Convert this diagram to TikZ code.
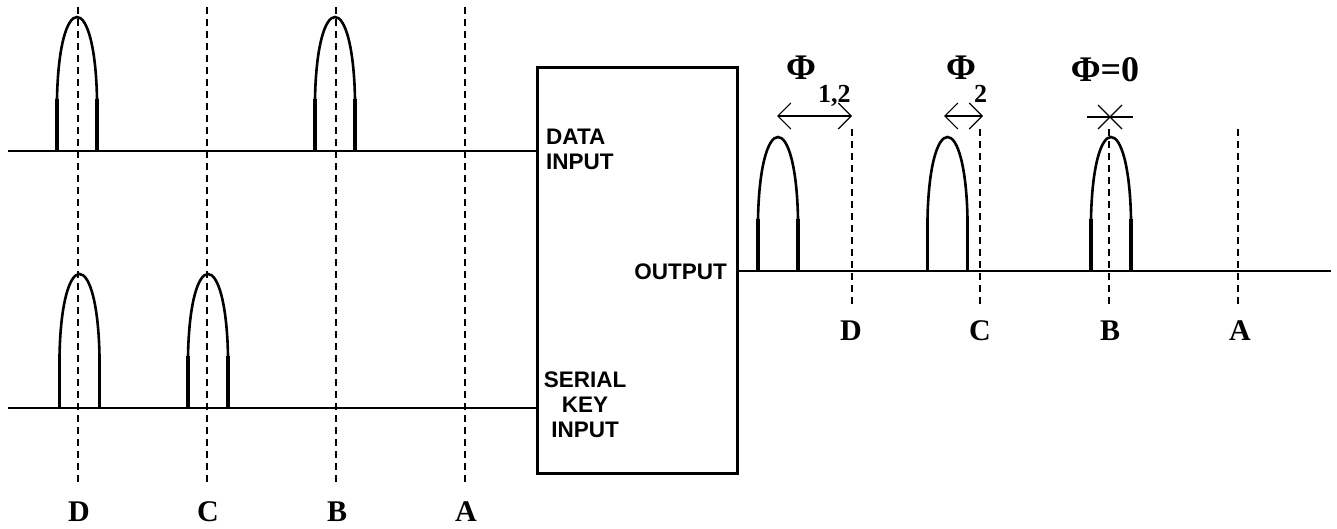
\documentclass[tikz,border=0pt]{standalone}
\usepackage{fontspec}
\setmainfont{Liberation Serif}
\setsansfont{Liberation Sans}
\usetikzlibrary{arrows.meta}
\begin{document}
\begin{tikzpicture}[x=1pt,y=-1pt,
  guide/.style={dash pattern=on 7pt off 5pt, line width=1.4pt},
  base/.style={line width=1.8pt},
  letter/.style={font=\bfseries\fontsize{30}{30}\selectfont, inner sep=0pt},
  phi/.style={font=\bfseries\fontsize{36}{36}\selectfont, inner sep=0pt},
  sub/.style={font=\bfseries\fontsize{26}{26}\selectfont, inner sep=0pt},
  port/.style={font=\sffamily\bfseries\fontsize{22.5}{25}\selectfont, inner sep=0pt},
  dimarrow/.style={line width=1.1pt, {Straight Barb[length=13pt,width=26pt]}-{Straight Barb[length=13pt,width=26pt]}},
  crossline/.style={line width=1.1pt},
  pulse/.pic={
    \draw[line width=3.5pt] (-20,0) -- (-20,-52);
    \draw[line width=3.5pt] (20,0) -- (20,-52);
    \draw[line width=2.6pt] (-20,-52) .. controls (-19,-105) and (-10,-134) .. (0,-134)
                                      .. controls (10,-134) and (19,-105) .. (20,-52);
  }]
\useasboundingbox (0,0) rectangle (1337,528);

% box
\node[draw, line width=3pt, minimum width=200pt, minimum height=406pt, inner sep=0pt] (box) at (637,270) {};

% lines
\coordinate (din) at (8,151);
\coordinate (kin) at (8,408);
\coordinate (dout) at (1331,271);
\draw[base] (din) -- (din -| box.west);
\draw[base] (kin) -- (kin -| box.west);
\draw[base] (box.east |- dout) -- (dout);

% port labels
\node[port, anchor=north west, align=left] (pdata) at (546,129) {DATA\\INPUT};
\node[port, anchor=north, align=center] (pkey) at (585,372) {SERIAL\\KEY\\INPUT};
\node[port, anchor=east] (pout) at (727,272) {OUTPUT};

% left guides
\foreach \n/\x in {D/78,C/207,B/336,A/465}{
  \coordinate (lt\n) at (\x,7);
  \coordinate (lb\n) at (\x,485);
  \draw[guide] (lt\n) -- (lb\n);
  \node[letter] (ll\n) at (\x+1,512) {\n};
}

% left pulses
\pic at (77,151) {pulse};
\pic at (335,151) {pulse};
\pic at (79.5,408) {pulse};
\pic at (208,408) {pulse};

% right guides
\foreach \n/\x/\lx in {D/852/851,C/980/980,B/1109/1110,A/1238/1240}{
  \coordinate (rt\n) at (\x,129);
  \coordinate (rb\n) at (\x,305);
  \draw[guide] (rt\n) -- (rb\n);
  \node[letter] (rl\n) at (\lx,331) {\n};
}

% right pulses
\pic at (778,271) {pulse};
\pic at (947.5,271) {pulse};
\pic at (1111,271) {pulse};

% phase arrows
\coordinate (a1s) at (777,116);
\coordinate (a1e) at (852,116);
\draw[dimarrow] (a1s) -- (a1e);
\coordinate (a2s) at (944,116);
\coordinate (a2e) at (983,116);
\draw[dimarrow] (a2s) -- (a2e);

% cross
\coordinate (xl) at (1087,117);
\coordinate (xr) at (1133,117);
\coordinate (xa) at (1098,105);
\coordinate (xb) at (1122,129);
\coordinate (xd) at (1098,129);
\coordinate (xe) at (1122,105);
\draw[crossline] (xl) -- (xr);
\draw[crossline] (xa) -- (xb);
\draw[crossline] (xd) -- (xe);

% phase labels
\node[phi] (phi12) at (801,68) {Φ};
\node[sub, anchor=base west] (s12) at (818,102) {1,2};
\node[phi] (phi2) at (961,68) {Φ};
\node[sub, anchor=base west] (s2) at (974,102) {2};
\node[phi] (phi0) at (1105,70) {Φ=0};
\end{tikzpicture}
\end{document}
